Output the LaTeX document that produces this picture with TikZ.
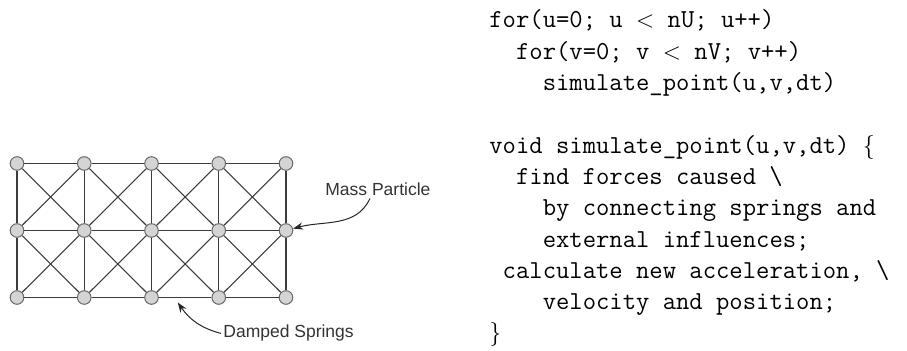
\documentclass[tikz,border=0pt]{standalone}
\usepackage{fontspec}
\usepackage{xcolor}
\usepackage{tikz}
\usetikzlibrary{arrows.meta,calc}
\newfontfamily\labelfont{Liberation Sans}

\begin{document}
\begin{tikzpicture}[x=0.5pt,y=-0.5pt]
        % Define colors
        \definecolor{particle}{RGB}{212,212,212}
        \definecolor{rim}{RGB}{105,105,105}
        \definecolor{spring}{RGB}{60,60,60}
        \tikzset{
            mass/.style={circle,draw=rim,fill=particle,line width=0.5pt,minimum size=6.8pt,inner sep=0pt},
            link/.style={draw=spring,line width=0.55pt},
            callout/.style={font=\labelfont\fontsize{8.75}{10}\selectfont,text=black!80,inner sep=1pt},
            pointer/.style={draw=black!85,line width=0.5pt,-{Stealth[length=5pt,width=3.6pt]}}
        }
        \useasboundingbox (0,0) rectangle (907,351);

        % Particles on a 5x3 grid
        \foreach \i in {1,...,5} {
                \foreach \j in {1,...,3} {
                        \node[mass] (p-\i-\j) at ({17+67.25*(\i-1)}, {163.5+67*(\j-1)}) {};
                    }
            }

        % Vertical springs
        \foreach \i in {1,...,5} {
                \draw[link] (p-\i-1) -- (p-\i-2);
                \draw[link] (p-\i-2) -- (p-\i-3);
            }

        % Horizontal and crossed springs
        \foreach \i/\n in {1/2,2/3,3/4,4/5} {
                \foreach \j in {1,...,3} {
                        \draw[link] (p-\i-\j) -- (p-\n-\j);
                    }
                \foreach \j/\k in {1/2,2/3} {
                        \draw[link] (p-\i-\j) -- (p-\n-\k);
                        \draw[link] (p-\n-\j) -- (p-\i-\k);
                    }
            }

        % Add labels
        \node[callout,anchor=base west] (mass) at (323,196) {Mass Particle};
        \node[callout,anchor=base west] (damped) at (221,338) {Damped Springs};

        \coordinate (gap) at ([yshift=-2.5pt]$(p-3-3)!0.39!(p-4-3)$);
        \draw[pointer] ([xshift=-4pt]mass.south) to[out=-115,in=15] (p-5-2);
        \draw[pointer] (damped.west) to[out=165,in=-55] (gap);

        % Pseudo code (base anchor sits on the last line)
        \node[anchor=base west,align=left,inner sep=0pt,font=\ttfamily\fontsize{12.95}{15.65}\selectfont] (code) at (489,341) {%
            for(u=0; u $<$ nU; u++)\\
            \phantom{xx}for(v=0; v $<$ nV; v++)\\
            \phantom{xxxx}simulate\_point(u,v,dt)\\[15.65pt]
            void simulate\_point(u,v,dt) $\{$\\
            \phantom{xx}find forces caused \textbackslash\\
            \phantom{xxxx}by connecting springs and\\
            \phantom{xxxx}external influences;\\
            \phantom{x}calculate new acceleration, \textbackslash\\
            \phantom{xxxx}velocity and position;\\
            $\}$};

    \end{tikzpicture}
\end{document}
